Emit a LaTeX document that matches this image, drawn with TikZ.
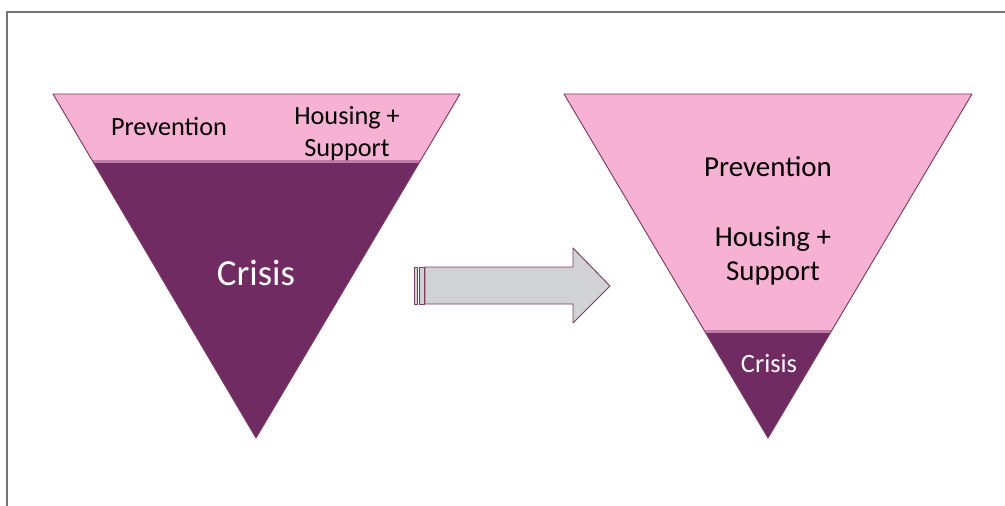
\documentclass[tikz,border=0pt]{standalone}
\usepackage{fontspec}
\setmainfont{Carlito}
\usetikzlibrary{calc}
\definecolor{pinkfill}{HTML}{F6B1D3}
\definecolor{crisisfill}{HTML}{712B63}
\definecolor{bandline}{HTML}{C17BA8}
\definecolor{arrowfill}{HTML}{D1D2D4}
\definecolor{edgeline}{HTML}{7B3B61}
\begin{document}
\begin{tikzpicture}[x=0.75pt,y=-0.75pt, line join=round, line cap=round,
  edge/.style={draw=edgeline,line width=0.7pt},
  band/.style={bandline,line width=2.2pt,line cap=butt}]
\useasboundingbox (0,0) rectangle (1005,506);
\def\tL{0.195} \def\tR{0.690} % hauteur de la bande
% cadre
\draw[gray!90!black,line width=1.2pt,line cap=butt] (7,506)--(7,12)--(1005,12);
% triangle gauche
\coordinate (Ltl) at (53,94); \coordinate (Ltr) at (460,94); \coordinate (Lap) at (256,438);
\fill[pinkfill] (Ltl)--(Ltr)--($(Ltr)!\tL!(Lap)$)--($(Ltl)!\tL!(Lap)$)--cycle;
\fill[crisisfill] ($(Ltl)!\tL!(Lap)$)--($(Ltr)!\tL!(Lap)$)--(Lap)--cycle;
\draw[band] ($(Ltl)!\tL!(Lap)$)--($(Ltr)!\tL!(Lap)$);
\draw[edge] (Ltl)--(Ltr)--(Lap)--cycle;
% triangle droit
\coordinate (Rtl) at (564,94); \coordinate (Rtr) at (972,94); \coordinate (Rap) at (768,438);
\fill[pinkfill] (Rtl)--(Rtr)--($(Rtr)!\tR!(Rap)$)--($(Rtl)!\tR!(Rap)$)--cycle;
\fill[crisisfill] ($(Rtl)!\tR!(Rap)$)--($(Rtr)!\tR!(Rap)$)--(Rap)--cycle;
\draw[band] ($(Rtl)!\tR!(Rap)$)--($(Rtr)!\tR!(Rap)$);
\draw[edge] (Rtl)--(Rtr)--(Rap)--cycle;
% fleche
\draw[edge,fill=arrowfill] (425,267)--(573,267)--(573,248)--(610,286)--(573,323)--(573,304)--(425,304)--cycle;
\draw[edge,fill=arrowfill] (414,267) rectangle (417,304);
\draw[edge,fill=arrowfill] (419,267) rectangle (424,304);
% textes
\node[font=\fontsize{19.7}{24}\selectfont] (Lprev) at (169,127) {Prevention};
\node[font=\fontsize{19.7}{24}\selectfont,align=center] (Lhous) at (347,134) {Housing +\\Support};
\node[font=\fontsize{27.6}{33}\selectfont,text=white] (Lcris) at (256,273) {Crisis};
\node[font=\fontsize{21.7}{26}\selectfont] (Rprev) at (768,167) {Prevention};
\node[font=\fontsize{21.7}{26}\selectfont,align=center] (Rhous) at (773,256) {Housing +\\Support};
\node[font=\fontsize{19.8}{24}\selectfont,text=white] (Rcris) at (769,364) {Crisis};
\end{tikzpicture}
\end{document}
